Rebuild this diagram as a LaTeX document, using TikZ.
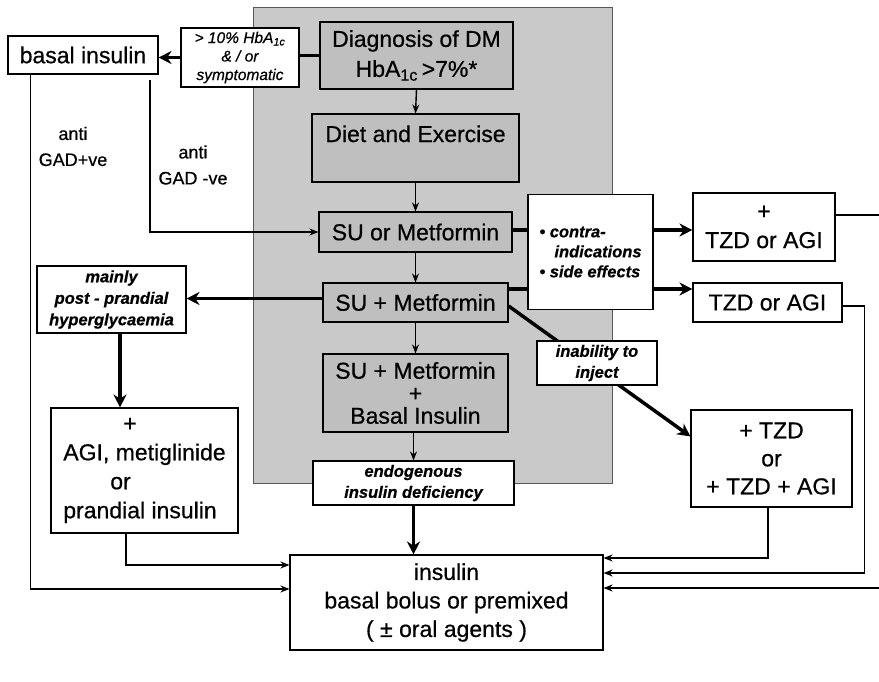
\documentclass[tikz,border=0pt]{standalone}
\usepackage{fontspec}
\setmainfont{Liberation Sans}[FakeBold=0.6]
\usetikzlibrary{arrows.meta,calc}
\begin{document}
\begin{tikzpicture}[x=1pt,y=-1pt,
 box/.style={draw,line width=1.1pt,fill=white,inner sep=0pt,align=center,font=\fontsize{23}{28}\selectfont},
 gbox/.style={box,fill=black!25},
 lbl/.style={draw,line width=1.1pt,fill=white,inner sep=0pt,align=center,font=\bfseries\itshape\fontsize{16.5}{21}\selectfont},
 narrow/.style={line width=1.4pt,-{Stealth[length=9pt,width=7pt]}},
 tarrow/.style={line width=3.5pt,-{Stealth[length=13pt,width=13pt]}},
 tline/.style={line width=3.5pt},
 note/.style={align=center,inner sep=0pt,font=\fontsize{18}{26}\selectfont}
]
\clip (0,0) rectangle (879,681);
\fill[white] (0,0) rectangle (879,681);
\node[draw=black!65,line width=0.8pt,fill=black!21,minimum width=359pt,minimum height=476pt,inner sep=0pt] (bg) at (432.5,245) {};

\node[gbox,minimum width=193pt,minimum height=67pt,font=\fontsize{23}{30}\selectfont] (diag) at (416.5,55.5) {Diagnosis of DM\\HbA\textsubscript{1c}\,>7\%*};
\node[gbox,minimum width=207pt,minimum height=68pt,text height=28pt,text depth=40pt] (diet) at (415.5,148) {Diet and Exercise};
\node[gbox,minimum width=193pt,minimum height=40pt] (suor) at (415.5,232) {SU or Metformin};
\node[gbox,minimum width=185pt,minimum height=39pt] (sum) at (415.5,302.5) {SU + Metformin};
\node[gbox,minimum width=185pt,minimum height=78pt,font=\fontsize{23}{22.5}\selectfont] (sumb) at (415.5,393) {SU + Metformin\\+\\Basal Insulin};
\node[lbl,minimum width=201pt,minimum height=44pt] (endo) at (413.5,483) {endogenous\\insulin deficiency};
\node[box,minimum width=313pt,minimum height=95pt,font=\fontsize{23}{28.5}\selectfont] (ins) at (446.5,602.5) {insulin\\basal bolus or premixed\\( ± oral agents )};

\node[box,minimum width=150pt,minimum height=38pt] (basal) at (83,55) {basal insulin};
\node[box,minimum width=118pt,minimum height=59pt,font=\itshape\fontsize{15.5}{18.5}\selectfont] (cond) at (240,57.5) {> 10\% HbA\textsubscript{1c}\\\& / or\\symptomatic};
\node[lbl,minimum width=149pt,minimum height=67pt,font=\bfseries\itshape\fontsize{16.5}{21.5}\selectfont] (mainly) at (111.5,299.5) {mainly\\post - prandial\\hyperglycaemia};
\node[box,minimum width=187pt,minimum height=125pt,align=left,font=\fontsize{23}{29}\selectfont] (agi) at (144.5,470.5) {\hspace*{60pt}+\\AGI, metiglinide\\\hspace*{47pt}or\\prandial insulin};

\node[lbl,minimum width=125pt,minimum height=115pt,align=left,font=\bfseries\itshape\fontsize{16.5}{20}\selectfont] (contra) at (590.5,252) {\textbullet\ contra-\\\hspace*{15pt}indications\\\textbullet\ side effects};
\node[box,minimum width=142pt,minimum height=68pt,font=\fontsize{23}{29}\selectfont] (tzd1) at (764,227) {+\\TZD or AGI};
\node[box,minimum width=149pt,minimum height=39pt] (tzd2) at (767.5,302.5) {TZD or AGI};
\node[box,minimum width=161pt,minimum height=97pt,font=\fontsize{23}{28}\selectfont] (tzd3) at (771.5,458.5) {+ TZD\\or\\+ TZD + AGI};

\node[note] (gadp) at (73,146.5) {anti\\GAD+ve};
\node[note] (gadn) at (193,165) {anti\\GAD -ve};

% main column
\draw[narrow] (diag.south) -- (diet.north);
\draw[narrow] (diet.south) -- (suor.north);
\draw[narrow] (suor.south) -- (sum.north);
\draw[narrow] (sum.south) -- (sumb.north);
\draw[narrow] (sumb.south) -- (endo.south |- sumb.south) -- (endo.north);
\draw[tarrow] (endo.south) -- (endo.south |- ins.north);

% top left
\draw[tline] (diag.west) -- (diag.west -| cond.east);
\draw[tarrow] (cond.west) -- (cond.west -| basal.east);
\coordinate (bl) at ($(basal.south west)+(23,0)$);
\coordinate (bt) at ($(ins.west)+(0,-13.5)$);
\draw[narrow] (bl) |- (bt);
\coordinate (gadm) at (150,80);
\draw[narrow] (gadm) |- (suor.west);

% left branch
\coordinate (m1) at ($(sum.west)+(0,-4)$);
\draw[tarrow] (m1) -- (m1 -| mainly.east);
\coordinate (m2) at ($(mainly.south)+(8.5,0)$);
\draw[tarrow] (m2) -- (m2 |- agi.north);
\coordinate (a1) at ($(agi.south)+(-18.5,0)$);
\coordinate (a2) at ($(ins.west)+(0,-37.5)$);
\draw[narrow] (a1) |- (a2);

% right branch
\coordinate (c230) at ($(suor.east)+(0,-2)$);
\coordinate (c289) at ($(sum.east)+(0,-13.5)$);
\draw[tline] (c230) -- (c230 -| contra.west);
\draw[tline] (c289) -- (c289 -| contra.west);
\draw[tarrow] (c230 -| contra.east) -- (c230 -| tzd1.west);
\draw[tarrow] (c289 -| contra.east) -- (c289 -| tzd2.west);
\coordinate (r1) at ($(tzd1.east)+(0,-12)$);
\coordinate (r1e) at ($(ins.east)+(0,-14.5)$);
\draw[narrow] (r1) -- ++(50,0) |- (r1e);
\coordinate (r2) at ($(tzd2.east)+(0,3.5)$);
\coordinate (r2e) at ($(ins.east)+(0,-29.5)$);
\draw[narrow] (r2) -- ++(22,0) |- (r2e);
\coordinate (r3) at ($(tzd3.south)+(-3.5,0)$);
\coordinate (r3e) at ($(ins.east)+(0,-44.5)$);
\draw[narrow] (r3) |- (r3e);

% inability to inject
\coordinate (d1) at ($(sum.east)+(0,3.5)$);
\coordinate (d2) at ($(tzd3.north west)+(0,27)$);
\draw[tarrow] (d1) -- (d2);
\node[lbl,minimum width=120pt,minimum height=44pt] (inj) at (597,363) {inability to\\inject};
\end{tikzpicture}
\end{document}
